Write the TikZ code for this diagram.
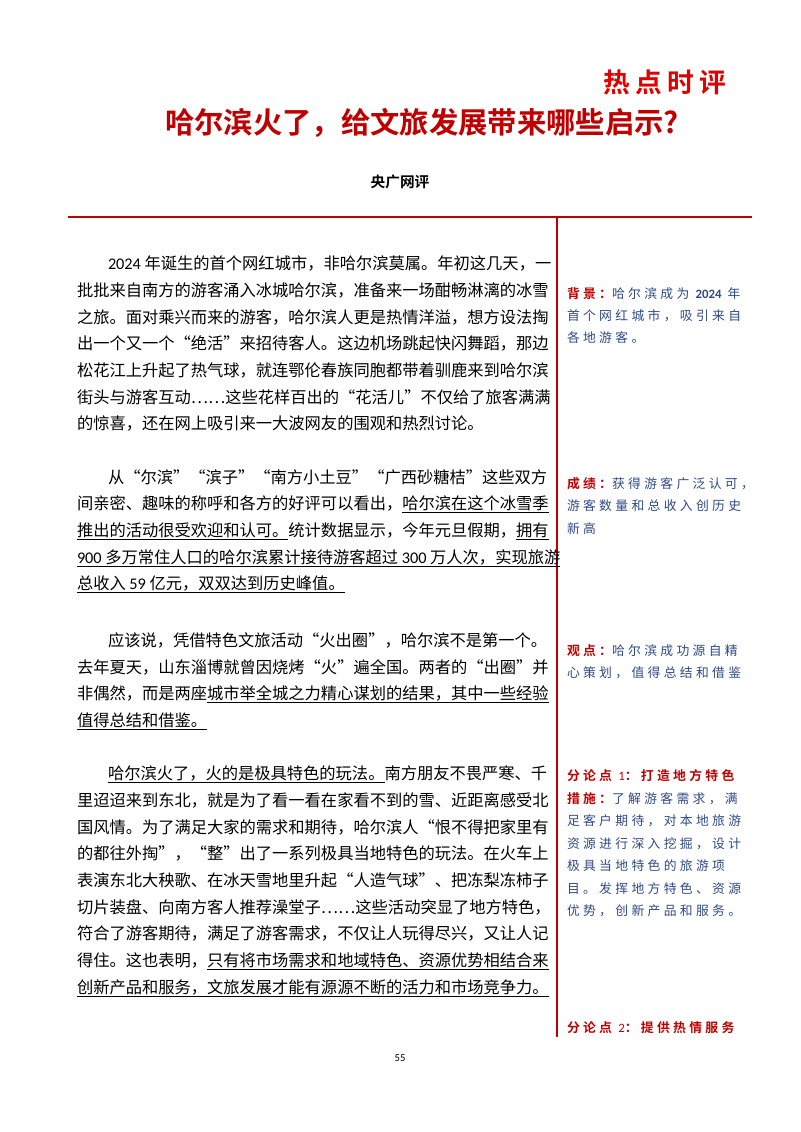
\documentclass[tikz,border=0pt]{standalone}
\usepackage{fontspec}
\setmainfont{Noto Sans CJK SC}
\newfontfamily\cjkb{Noto Sans CJK SC Bold}
\newfontfamily\sidef[LetterSpace=26]{Noto Sans CJK SC}
\newfontfamily\sideb[LetterSpace=26]{Noto Sans CJK SC Bold}
\newfontfamily\latn{Carlito}
\definecolor{pgred}{HTML}{C00000}
\definecolor{hotred}{HTML}{E00000}
\definecolor{sideblue}{HTML}{2F4A86}
\newcount\lnc
\newcommand\nl[3]{\global\advance\lnc1
  \node[txt,name=t\the\lnc] at (#1,#2) {#3};}
\begin{document}
\begin{tikzpicture}[x=0.75pt,y=-0.75pt,
  txt/.style={anchor=base west,inner sep=0pt,outer sep=0pt},
  body/.style={font=\fontsize{12.2pt}{14pt}\selectfont},
  side/.style={font=\sidef\fontsize{9.6pt}{11pt}\selectfont,text=sideblue}]
\useasboundingbox (0,0) rectangle (800,1132);
\fill[white] (0,0) rectangle (800,1132);
% header
\node[anchor=center,text=hotred,font=\cjkb\fontsize{20pt}{21pt}\selectfont] (hot) at (665,82) {热\hspace{4pt}点\hspace{4pt}时\hspace{4pt}评};
\node[anchor=center,text=pgred,font=\cjkb\fontsize{22pt}{23pt}\selectfont] (title) at (422,123) {哈尔滨火了，给文旅发展带来哪些启示?};
\node[anchor=center,font=\cjkb\fontsize{11pt}{12pt}\selectfont] (src) at (400,182) {央广网评};
\coordinate (hl) at (68,217); \coordinate (hr) at (752,217);
\draw[pgred,line width=2.2pt] (hl) -- (hr);
\coordinate (vt) at (557,217); \coordinate (vb) at (557,1037);
\draw[pgred,line width=1.6pt] (vt) -- (vb);
\node[font=\latn\fontsize{8pt}{9pt}\selectfont] (pg) at (400,1058) {55};
% body
\begin{scope}[every node/.append style={body}]
\nl{108}{269}{{\latn 2024} 年诞生的首个网红城市，非哈尔滨莫属。年初这几天，一}
\nl{77}{296}{批批来自南方的游客涌入冰城哈尔滨，准备来一场酣畅淋漓的冰雪}
\nl{77}{323}{之旅。面对乘兴而来的游客，哈尔滨人更是热情洋溢，想方设法掏}
\nl{77}{349}{出一个又一个“绝活”来招待客人。这边机场跳起快闪舞蹈，那边}
\nl{77}{376}{松花江上升起了热气球，就连鄂伦春族同胞都带着驯鹿来到哈尔滨}
\nl{77}{403}{街头与游客互动……这些花样百出的“花活儿”不仅给了旅客满满}
\nl{77}{429}{的惊喜，还在网上吸引来一大波网友的围观和热烈讨论。}
\nl{108}{483}{从“尔滨”“滨子”“南方小土豆”“广西砂糖桔”这些双方}
\nl{77}{509}{间亲密、趣味的称呼和各方的好评可以看出，\underline{哈尔滨在这个冰雪季}}
\nl{77}{536}{\underline{推出的活动很受欢迎和认可。}统计数据显示，今年元旦假期，\underline{拥有}}
\nl{77}{563}{\underline{{\latn 900} 多万常住人口的哈尔滨累计接待游客超过 {\latn 300} 万人次，实现旅游}}
\nl{77}{589}{\underline{总收入 {\latn 59} 亿元，双双达到历史峰值。}}
\nl{108}{646}{应该说，凭借特色文旅活动“火出圈”，哈尔滨不是第一个。}
\nl{77}{673}{去年夏天，山东淄博就曾因烧烤“火”遍全国。两者的“出圈”并}
\nl{77}{699}{非偶然，而是两座\underline{城市举全城之力精心谋划的结果，其中一些经验}}
\nl{77}{726}{\underline{值得总结和借鉴。}}
\nl{108}{779}{\underline{哈尔滨火了，火的是极具特色的玩法。}南方朋友不畏严寒、千}
\nl{77}{806}{里迢迢来到东北，就是为了看一看在家看不到的雪、近距离感受北}
\nl{77}{833}{国风情。为了满足大家的需求和期待，哈尔滨人“恨不得把家里有}
\nl{77}{859}{的都往外掏”，“整”出了一系列极具当地特色的玩法。在火车上}
\nl{77}{886}{表演东北大秧歌、在冰天雪地里升起“人造气球”、把冻梨冻柿子}
\nl{77}{913}{切片装盘、向南方客人推荐澡堂子……这些活动突显了地方特色，}
\nl{77}{939}{符合了游客期待，满足了游客需求，不仅让人玩得尽兴，又让人记}
\nl{77}{966}{得住。这也表明，\underline{只有将市场需求和地域特色、资源优势相结合来}}
\nl{77}{993}{\underline{创新产品和服务，文旅发展才能有源源不断的活力和市场竞争力。}}
\end{scope}
% side notes
\begin{scope}[every node/.append style={side}]
\nl{567}{298}{\textcolor{pgred}{\sideb 背景：}哈尔滨成为 {\latn\bfseries 2024} 年}
\nl{567}{320}{首个网红城市，吸引来自}
\nl{567}{342}{各地游客。}
\nl{567}{488}{\textcolor{pgred}{\sideb 成绩：}获得游客广泛认可，}
\nl{567}{510}{游客数量和总收入创历史}
\nl{567}{533}{新高}
\nl{567}{655}{\textcolor{pgred}{\sideb 观点：}哈尔滨成功源自精}
\nl{567}{677}{心策划，值得总结和借鉴}
\nl{567}{780}{\textcolor{pgred}{\sideb 分论点 {\latn 1}：打造地方特色}}
\nl{567}{803}{\textcolor{pgred}{\sideb 措施：}了解游客需求，满}
\nl{567}{825}{足客户期待，对本地旅游}
\nl{567}{848}{资源进行深入挖掘，设计}
\nl{567}{870}{极具当地特色的旅游项}
\nl{567}{893}{目。发挥地方特色、资源}
\nl{567}{915}{优势，创新产品和服务。}
\nl{567}{1032}{\textcolor{pgred}{\sideb 分论点 {\latn 2}：提供热情服务}}
\end{scope}
\end{tikzpicture}
\end{document}
